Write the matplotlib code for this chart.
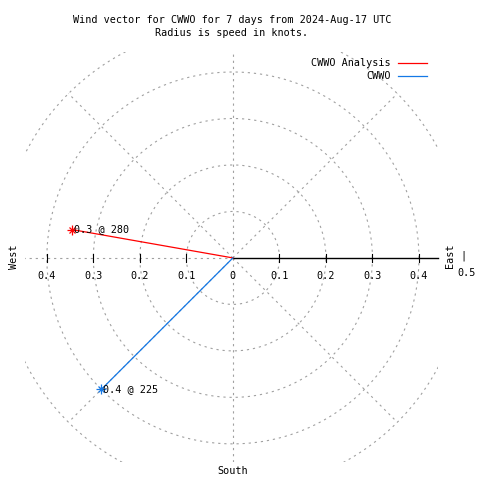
import numpy as np
import matplotlib
matplotlib.use("Agg")
import matplotlib.pyplot as plt

# ---- data ----
series_names = ["CWWO Analysis", "CWWO"]
series_colors = ["#ff0000", "#1478e6"]
speeds = [0.352, 0.40]          # knots (radius)
directions = [280, 225]         # degrees (compass)
point_labels = ["0.3 @ 280", "0.4 @ 225"]
ring_radii = [0.1, 0.2, 0.3, 0.4, 0.5]
spoke_angles = [0, 45, 90, 135, 180, 225, 270, 315]
tick_values = [0.1, 0.2, 0.3, 0.4]
tick_labels = ["0.1", "0.2", "0.3", "0.4"]
title_lines = ["Wind vector for CWWO for 7 days from 2024-Aug-17 UTC",
               "Radius is speed in knots."]

W = H = 480
FONT = "DejaVu Sans Mono"
FS = 7.3
GRID = "#a0a0a0"

fig = plt.figure(figsize=(4.8, 4.8), dpi=100)

def fx(x):
    return x / W

def fy(y):
    return 1 - y / H

# axes occupying pixel box x 25..438, y 52..462
ax = fig.add_axes([fx(25), fy(462), (438 - 25) / W, (462 - 52) / H])
ax.set_xlim(-0.447, 0.441)
ax.set_ylim(-0.439, 0.443)
ax.set_axis_off()

dash = (0, (2.0, 3.5))
t = np.linspace(0, 2 * np.pi, 721)
for r in ring_radii:
    ax.plot(r * np.cos(t), r * np.sin(t), color=GRID, lw=0.8, ls=dash)
for a in spoke_angles:
    if a == 0:
        continue
    th = np.deg2rad(a)
    ax.plot([0, 0.5 * np.cos(th)], [0, 0.5 * np.sin(th)], color=GRID, lw=0.8, ls=dash)

# solid black positive axis
ax.plot([0, 0.441], [0, 0], color="black", lw=1.0, clip_on=False)
tl = 0.009
for v in tick_values:
    ax.plot([v, v], [-tl, tl], color="black", lw=0.8)
    ax.plot([-v, -v], [-tl, tl], color="black", lw=0.8)

# tick labels
lab_off = -0.039
for v, s in zip(tick_values, tick_labels):
    ax.text(-v, lab_off, s, ha="center", va="center", fontsize=FS, family=FONT)
    ax.text(v, lab_off, s, ha="center", va="center", fontsize=FS, family=FONT)
ax.text(0, lab_off, "0", ha="center", va="center", fontsize=FS, family=FONT)

# data vectors
for spd, d, c, lab in zip(speeds, directions, series_colors, point_labels):
    th = np.deg2rad(90 - d)
    x, y = spd * np.cos(th), spd * np.sin(th)
    ax.plot([0, x], [0, y], color=c, lw=0.9)
    ax.plot([x], [y], marker="+", color=c, ms=7, mew=0.9)
    ax.plot([x], [y], marker="x", color=c, ms=5, mew=0.9)
    ax.text(x + 0.004, y, lab, ha="left", va="center", fontsize=FS, family=FONT)

# titles
fig.text(fx(232), fy(20), title_lines[0], ha="center", va="center", fontsize=FS, family=FONT)
fig.text(fx(232), fy(33), title_lines[1], ha="center", va="center", fontsize=FS, family=FONT)

# direction labels
fig.text(fx(14), fy(257), "West", ha="center", va="center", rotation=90, fontsize=FS, family=FONT)
fig.text(fx(450), fy(256), "East", ha="center", va="center", rotation=90, fontsize=FS, family=FONT)
fig.text(fx(463), fy(256), "|", ha="center", va="center", fontsize=FS, family=FONT)
fig.text(fx(467), fy(273), "0.5", ha="center", va="center", fontsize=FS, family=FONT)
fig.text(fx(233), fy(471), "South", ha="center", va="center", fontsize=FS, family=FONT)

# legend
for i, (name, c) in enumerate(zip(series_names, series_colors)):
    yy = 63 + 13 * i
    fig.text(fx(391), fy(yy), name, ha="right", va="center", fontsize=FS, family=FONT)
    fig.add_artist(plt.Line2D([fx(398), fx(427)], [fy(yy), fy(yy)], color=c, lw=0.9,
                              transform=fig.transFigure))

fig.savefig("out.png", dpi=100)
